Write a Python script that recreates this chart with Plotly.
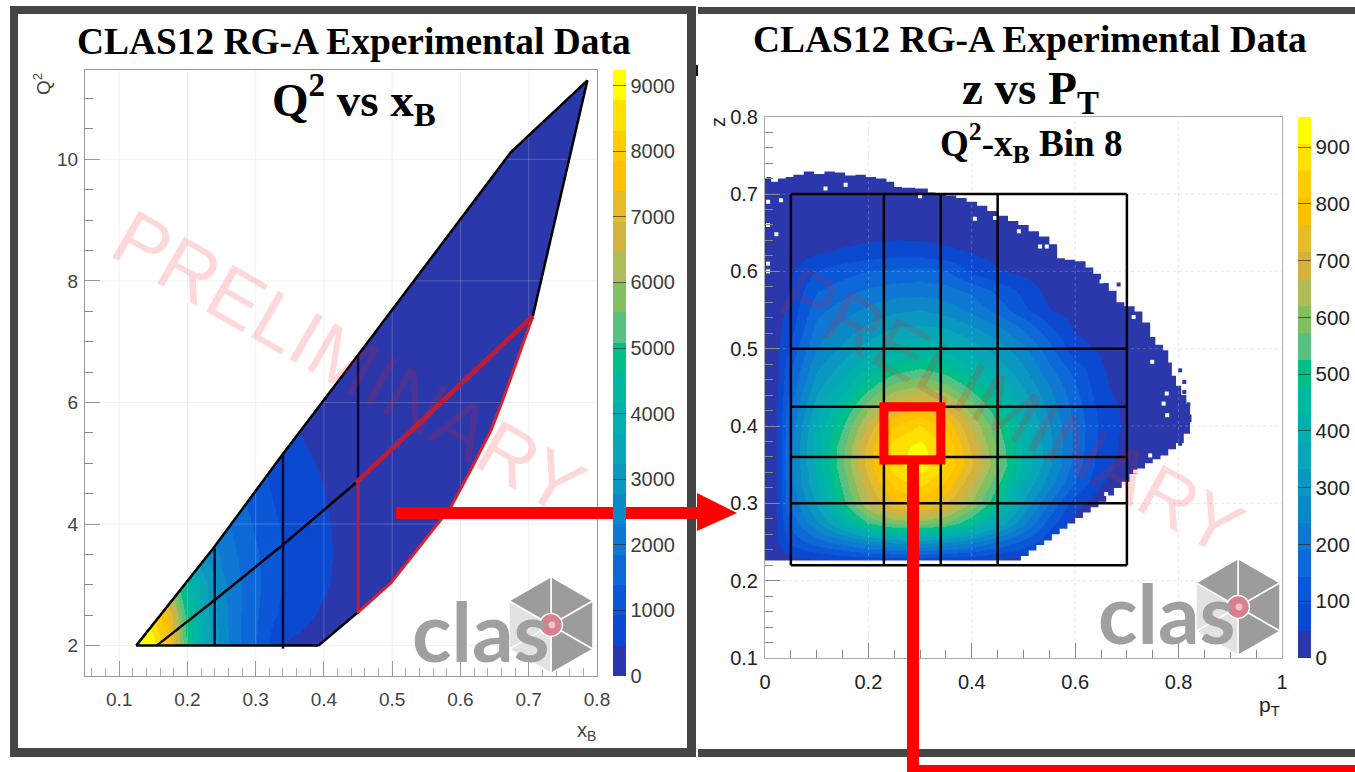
import plotly.graph_objects as go

W, H = 1355, 772

# ---------- data: Q2 vs xB ----------
xb_cols = [.05, .125, .15, .175, .2, .225, .25, .275, .3, .325, .35, .375, .4, .425, .45, .5, .8]
q2_rows = [1.5, 2, 2.5, 3, 3.5, 4, 4.5, 5, 5.5, 6, 7, 11.5]
q2_counts = [
    [9300, 9300, 9000, 7500, 5000, 3700, 2600, 1900, 1400, 700, 380, 330, 250, 170, 100, 60, 20],
    [9300, 9300, 9000, 7500, 5000, 3700, 2600, 1900, 1400, 700, 380, 330, 250, 170, 100, 60, 20],
    [9300, 9200, 8400, 7200, 4800, 3500, 2500, 1900, 1450, 1000, 680, 520, 400, 300, 200, 100, 20],
    [9000, 8000, 7000, 5600, 4300, 3400, 2450, 1900, 1500, 1100, 800, 620, 500, 390, 300, 180, 30],
    [8000, 6000, 5000, 4000, 3500, 2800, 2200, 1800, 1450, 1100, 820, 650, 520, 410, 330, 200, 30],
    [5000, 4000, 3000, 2600, 2400, 2200, 2000, 1650, 1300, 1000, 780, 620, 500, 400, 320, 180, 30],
    [3000, 2500, 2200, 2000, 1900, 1800, 1650, 1400, 1150, 900, 700, 560, 470, 380, 300, 170, 30],
    [2000, 1800, 1600, 1500, 1400, 1350, 1250, 1150, 1000, 800, 620, 500, 420, 340, 270, 160, 30],
    [1500, 1300, 1200, 1100, 1000, 900, 850, 800, 750, 620, 500, 430, 350, 300, 240, 150, 30],
    [400, 400, 400, 400, 400, 400, 400, 400, 400, 400, 400, 400, 300, 230, 190, 130, 30],
    [300, 300, 300, 300, 300, 300, 300, 300, 300, 300, 200, 200, 150, 120, 100, 60, 30],
    [100, 100, 100, 100, 100, 100, 100, 100, 100, 100, 100, 100, 50, 50, 40, 40, 30],
]
# kinematic boundary of the Q2-xB region
low_edge_xb = [.125, .392, .449, .498, .586, .615, .645, .662, .706, .786]
low_edge_q2 = [2, 2, 2.54, 3.03, 4.28, 4.89, 5.55, 6.04, 7.42, 11.3]
up_edge_xb = [.674, .45, .339, .238, .125]
up_edge_q2 = [10.12, 6.78, 5.14, 3.6, 2]
# bin lines
diag_xb = [.155, .24, .34, .447]
diag_q2 = [2, 2.75, 3.66, 4.68]
bin8_upper_xb = [.447, .706]
bin8_upper_q2 = [4.68, 7.42]
div_xb = [.24, .34, .45]
div_q2_low = [2, 1.95, 4.68]
div_q2_high = [3.6, 5.14, 6.78]

# ---------- data: z vs pT ----------
pt_cols = [0, .025, .05, .1, .15, .2, .25, .3, .35, .4, .45, .5, .55, .6, .65, .7, .75, .8, .85]
z_rows = [.2, .225, .25, .275, .3, .325, .35, .375, .4, .425, .45, .475, .5, .525, .55, .575, .6, .625, .65, .675, .7, .725, .75]
z_counts = [
    [0] * 19,
    [5, 12, 25, 30, 35, 40, 42, 42, 40, 35, 25, 15, 5, 0, 0, 0, 0, 0, 0],
    [15, 48, 110, 170, 220, 270, 300, 310, 290, 250, 190, 130, 60, 10, 0, 0, 0, 0, 0],
    [20, 50, 160, 280, 400, 530, 590, 600, 570, 480, 370, 250, 120, 25, 0, 0, 0, 0, 0],
    [20, 50, 200, 340, 510, 660, 750, 780, 720, 610, 470, 320, 190, 65, 10, 0, 0, 0, 0],
    [20, 50, 220, 380, 540, 700, 830, 870, 800, 670, 530, 380, 260, 140, 50, 15, 0, 0, 0],
    [20, 50, 230, 400, 570, 740, 890, 935, 860, 720, 580, 420, 300, 170, 70, 25, 5, 0, 0],
    [20, 50, 230, 410, 560, 730, 880, 920, 850, 700, 560, 420, 300, 180, 80, 30, 8, 2, 0],
    [20, 50, 210, 390, 520, 680, 810, 860, 800, 660, 530, 400, 290, 180, 85, 35, 10, 3, 0],
    [20, 50, 190, 360, 470, 600, 710, 750, 700, 590, 480, 370, 270, 170, 75, 35, 12, 3, 0],
    [18, 48, 160, 320, 410, 510, 600, 630, 590, 510, 420, 330, 245, 150, 60, 22, 10, 3, 0],
    [16, 46, 140, 280, 350, 430, 490, 520, 490, 430, 360, 290, 200, 120, 52, 20, 8, 2, 0],
    [14, 42, 110, 240, 300, 360, 410, 430, 410, 360, 310, 250, 160, 62, 42, 15, 6, 1, 0],
    [12, 36, 80, 210, 260, 300, 340, 350, 340, 300, 255, 190, 110, 45, 28, 8, 3, 0, 0],
    [10, 30, 65, 175, 215, 250, 275, 285, 265, 225, 170, 105, 50, 22, 10, 3, 0, 0, 0],
    [8, 24, 55, 140, 170, 200, 215, 220, 210, 180, 130, 80, 30, 14, 6, 0, 0, 0, 0],
    [6, 18, 40, 100, 125, 145, 155, 160, 150, 85, 52, 35, 20, 10, 4, 0, 0, 0, 0],
    [4, 10, 22, 42, 55, 65, 72, 70, 58, 45, 30, 20, 10, 6, 2, 0, 0, 0, 0],
    [2, 5, 10, 20, 25, 30, 34, 33, 28, 22, 14, 8, 4, 2, 0, 0, 0, 0, 0],
    [1, 3, 5, 10, 13, 15, 17, 16, 13, 9, 5, 3, 1, 0, 0, 0, 0, 0, 0],
    [1, 1, 3, 5, 7, 8, 9, 8, 6, 4, 2, 1, 0, 0, 0, 0, 0, 0, 0],
    [0, 1, 1, 2, 3, 3, 3, 2, 2, 1, 0, 0, 0, 0, 0, 0, 0, 0, 0],
    [0] * 19,
]
# populated-region envelope, read along the staircase edge
env_pt = [.008, .48, .495, .51, .525, .54, .555, .57, .585, .60, .615, .63, .645, .66, .675, .69, .705, .72, .735, .75,
          .765, .78, .795, .81, .822, .825, .822, .815, .805, .795, .787, .78, .77, .755, .745, .73, .715, .695, .68,
          .665, .65, .635, .62, .60, .58, .565, .55, .53, .51, .49, .47, .45, .43, .41, .39, .37, .35, .33, .315, .29,
          .265, .25, .235, .215, .195, .175, .155, .135, .115, .095, .075, .055, .04, .025, .012, .003]
env_z = [.226, .226, .232, .239, .246, .252, .26, .267, .274, .281, .288, .295, .302, .31, .32, .328, .338, .345, .352, .357,
         .362, .37, .378, .39, .405, .415, .428, .44, .452, .465, .482, .498, .505, .515, .534, .548, .555, .56, .575,
         .585, .597, .605, .613, .615, .617, .635, .645, .652, .66, .665, .672, .678, .685, .69, .695, .698, .70, .702, .707, .708,
         .709, .716, .72, .722, .725, .724, .728, .729, .726, .729, .725, .722, .72, .716, .722, .72]
empty_pt = [.022, .117, .156, .031, .3, .406, .445, .491, .006, .006, .006, .006, .532, .545, .651, .713, .749, .777, .771, .778, .745, .716, .66]
empty_z = [.648, .707, .712, .692, .697, .668, .669, .652, .69, .66, .61, .6, .632, .632, .587, .541, .483, .442, .429, .414, .362, .341, .312]
stray_pt = [.684, .803, .811, .811, .819, .819, .803]
stray_z = [.583, .472, .457, .444, .428, .412, .377]
box_pt = [.05, .23, .34, .45, .7]
box_z = [.22, .3, .36, .425, .5, .7]
red_bin_pt = [.23, .34]
red_bin_z = [.356, .425]

cbar_colors = ['#2a38ab', '#0a49d0', '#0a58d8', '#0d68d8', '#0f78d2', '#0a88c8', '#0a98c0', '#08a6b8', '#00b0ac', '#00b8a0',
               '#00c088', '#58c080', '#80c060', '#b0bc58', '#d4b23e', '#e6bc28', '#ffc000', '#ffcc00', '#ffe000', '#ffff00']
left_ticks = [0, 1000, 2000, 3000, 4000, 5000, 6000, 7000, 8000, 9000]
right_ticks = [0, 100, 200, 300, 400, 500, 600, 700, 800, 900]

# ---------- layout helpers ----------
px = lambda v: v / W
py = lambda v: 1 - v / H
scale = []
for i, c in enumerate(cbar_colors):
    scale += [[i / 20, c], [(i + 1) / 20, c]]
SANS = 'Liberation Sans'
SERIF = 'Liberation Serif'

fig = go.Figure()


def cbar(x0, top, bottom, thick, ticks, size, color):
    return dict(x=px(x0), xanchor='left', xpad=0, ypad=0, y=py(bottom), yanchor='bottom', lenmode='pixels', len=bottom - top,
                thickness=thick, thicknessmode='pixels', tickvals=ticks, ticks='inside', ticklen=thick,
                tickwidth=1, tickcolor='rgba(40,40,40,.65)', outlinewidth=0, tickfont=dict(family=SANS, size=size, color=color))


fig.add_trace(go.Heatmap(x=xb_cols, y=q2_rows, z=q2_counts, zmin=0, zmax=9238, zsmooth='best', colorscale=scale, hoverinfo='skip',
                         colorbar=cbar(613, 70, 676, 13, left_ticks, 20, '#3c3c3c'), xaxis='x', yaxis='y'))
fig.add_trace(go.Heatmap(x=pt_cols, y=z_rows, z=z_counts, zmin=0, zmax=953, zsmooth='best', colorscale=scale, hoverinfo='skip',
                         colorbar=cbar(1298, 117, 658, 13, right_ticks, 20.5, '#222222'), xaxis='x2', yaxis='y2'))


def line(x, y, color='black', width=2.5, axis='', **kw):
    fig.add_trace(go.Scatter(x=x, y=y, mode='lines', line=dict(color=color, width=width), xaxis='x' + axis, yaxis='y' + axis,
                             hoverinfo='skip', showlegend=False, **kw))


# white masks outside the populated regions
mask_x = [.05, .05, .8, .8, .05, .05] + low_edge_xb + up_edge_xb + [.05]
mask_y = [2, 11.47, 11.47, 1.5, 1.5, 2] + low_edge_q2 + up_edge_q2 + [2]
fig.add_trace(go.Scatter(x=mask_x, y=mask_y, mode='lines', line=dict(width=0, color='white'), fill='toself', fillcolor='white',
                         hoverinfo='skip', showlegend=False, xaxis='x', yaxis='y'))
mask2_x = [0] + env_pt + [0, 0, 1, 1, 0, 0]
mask2_y = [.226] + env_z + [.72, .8, .8, .1, .1, .226]
fig.add_trace(go.Scatter(x=mask2_x, y=mask2_y, mode='lines', line=dict(width=0, color='white', shape='hv'), fill='toself', fillcolor='white',
                         hoverinfo='skip', showlegend=False, xaxis='x2', yaxis='y2'))
fig.add_trace(go.Scatter(x=empty_pt, y=empty_z, mode='markers', marker=dict(symbol='square', size=4, color='white'), hoverinfo='skip',
                         showlegend=False, xaxis='x2', yaxis='y2'))
fig.add_trace(go.Scatter(x=stray_pt, y=stray_z, mode='markers', marker=dict(symbol='square', size=4, color=cbar_colors[0]), hoverinfo='skip',
                         showlegend=False, xaxis='x2', yaxis='y2'))

# faint grid
for v in [.1, .2, .3, .4, .5, .6, .7]:
    line([v, v], [1.5, 11.47], 'rgba(205,205,215,.28)', 1)
for v in [2, 4, 6, 8, 10]:
    line([.05, .8], [v, v], 'rgba(205,205,215,.28)', 1)
for v in [.2, .4, .6, .8]:
    fig.add_trace(go.Scatter(x=[v, v], y=[.1, .8], mode='lines', line=dict(color='rgba(190,190,190,.35)', width=1, dash='dot'),
                             xaxis='x2', yaxis='y2', hoverinfo='skip', showlegend=False))
for v in [.2, .3, .4, .5, .6, .7]:
    fig.add_trace(go.Scatter(x=[0, 1], y=[v, v], mode='lines', line=dict(color='rgba(190,190,190,.35)', width=1, dash='dot'),
                             xaxis='x2', yaxis='y2', hoverinfo='skip', showlegend=False))

# Q2-xB bin lines
line([low_edge_xb[-1]] + up_edge_xb, [low_edge_q2[-1]] + up_edge_q2, 'black', 2.5)
line(low_edge_xb[:2], low_edge_q2[:2], 'black', 2.5)
line(low_edge_xb[1:3], low_edge_q2[1:3], 'black', 2.5)
line(low_edge_xb[-2:], low_edge_q2[-2:], 'black', 2.5)
line(diag_xb, diag_q2, 'black', 2.5)
for xv, lo, hi in zip(div_xb, div_q2_low, div_q2_high):
    line([xv, xv], [lo, hi], '#0a0a30', 2.5)
line([div_xb[2], div_xb[2]], [low_edge_q2[2], diag_q2[-1]], '#b81e3c', 3)
line(low_edge_xb[2:-1], low_edge_q2[2:-1], '#d8202e', 3)
line(bin8_upper_xb, bin8_upper_q2, '#b81e3c', 5)

# z-pT box grid
for v in box_pt:
    line([v, v], [box_z[0], box_z[-1]], 'black', 2.5, axis='2')
for v in box_z:
    line([box_pt[0], box_pt[-1]], [v, v], 'black', 2.5, axis='2')

# ---------- decorations in page pixels ----------
shapes = []


def rect(x0, y0, x1, y1, color):
    shapes.append(dict(type='rect', xref='paper', yref='paper', x0=px(x0), x1=px(x1), y0=py(y1), y1=py(y0),
                       fillcolor=color, line=dict(width=0), layer='above'))


def poly(points, color, lw=0, lc='white'):
    d = 'M ' + ' L '.join(f'{px(a):.5f},{py(b):.5f}' for a, b in points) + ' Z'
    shapes.append(dict(type='path', xref='paper', yref='paper', path=d, fillcolor=color, line=dict(width=lw, color=lc), layer='above'))


FRAME = '#454545'
rect(10, 6, 18, 757, FRAME)
rect(10, 6, 696, 14, FRAME)
rect(687, 6, 696, 757, FRAME)
rect(10, 748, 696, 757, FRAME)
rect(696, 65, 698, 76, '#111111')
rect(698, 7, 1355, 14, FRAME)
rect(698, 749, 1355, 757, FRAME)

RED = '#ff0000'
rect(396, 507, 698, 519, RED)
poly([(697, 493), (737, 513), (697, 531)], RED)
rect(907, 458, 919, 772, RED)
rect(907, 765, 1355, 772, RED)
shapes.append(dict(type='rect', xref='x2', yref='y2', x0=red_bin_pt[0], x1=red_bin_pt[1], y0=red_bin_z[0], y1=red_bin_z[1],
                   line=dict(color=RED, width=9), fillcolor='rgba(0,0,0,0)', layer='above'))


def logo(cx, cy, r):
    dx, dy = r * .866, r * .5
    v = [(cx, cy - r), (cx + dx, cy - dy), (cx + dx, cy + dy), (cx, cy + r), (cx - dx, cy + dy), (cx - dx, cy - dy)]
    fills = ['#9c9c9c', '#9c9c9c', '#9c9c9c', '#e2e2e2', '#e2e2e2', '#9c9c9c']
    for i in range(6):
        poly([(cx, cy), v[i], v[(i + 1) % 6]], fills[i], 1.5, 'white')
    rr = r * .235
    shapes.append(dict(type='circle', xref='paper', yref='paper', x0=px(cx - rr), x1=px(cx + rr), y0=py(cy + rr), y1=py(cy - rr),
                       fillcolor='#d97f8d', line=dict(color='white', width=1.5), layer='above'))
    rh = r * .07
    shapes.append(dict(type='circle', xref='paper', yref='paper', x0=px(cx + 1 - rh), x1=px(cx + 1 + rh), y0=py(cy + rh), y1=py(cy - rh),
                       fillcolor='#f0c4c4', line=dict(width=0), layer='above'))


logo(551, 625, 48.5)
logo(1238, 607, 48.5)

ann = []


def text(x, y, s, size, family=SANS, color='#333333', angle=0, bold=False):
    ann.append(dict(xref='paper', yref='paper', x=px(x), y=py(y), text=f'<b>{s}</b>' if bold else s, showarrow=False,
                    font=dict(family=family, size=size, color=color), textangle=angle, xanchor='center', yanchor='middle'))


text(354, 42, 'CLAS12 RG-A Experimental Data', 37.4, SERIF, 'black', bold=True)
text(1030, 40, 'CLAS12 RG-A Experimental Data', 37.4, SERIF, 'black', bold=True)
text(354, 100, 'Q<sup>2</sup> vs x<sub>B</sub>', 47, SERIF, 'black', bold=True)
text(1030, 92, 'z vs P<sub>T</sub>', 47, SERIF, 'black', bold=True)
text(1031, 143, 'Q<sup>2</sup>-x<sub>B</sub> Bin 8', 37, SERIF, 'black', bold=True)
text(348, 362, 'PRELIMINARY', 78, SANS, 'rgba(255,20,20,.16)', 30)
text(1012, 410, 'PRELIMINARY', 76, SANS, 'rgba(255,20,20,.16)', 29)
text(481, 630, 'clas', 82, 'Lato', '#a0a0a0', bold=True)
text(1167, 612, 'clas', 82, 'Lato', '#a0a0a0', bold=True)
text(42, 84, 'Q<sup>2</sup>', 19, SANS, '#444444', -90)
text(586, 731, 'x<sub>B</sub>', 20, SANS, '#444444')
text(1269, 706, 'p<sub>T</sub>', 21, SANS, '#222222')
text(718, 122, 'z', 20, SANS, '#222222', -90)

AX = dict(showgrid=False, zeroline=False, showline=True, mirror=True, ticks='inside', ticklen=15, tickwidth=1, layer='above traces')
fig.update_layout(
    width=W, height=H, margin=dict(l=0, r=0, t=0, b=0, autoexpand=False), paper_bgcolor='white', plot_bgcolor='white', showlegend=False,
    shapes=shapes, annotations=ann,
    xaxis=dict(AX, domain=[px(85), px(597)], range=[.05, .8], tickvals=[.1, .2, .3, .4, .5, .6, .7, .8], ticktext=['0.1', '0.2', '0.3', '0.4', '0.5', '0.6', '0.7', '0.8'],
               linecolor='#999999', tickcolor='#999999', tickfont=dict(family=SANS, size=19, color='#444444'), ticklabelstandoff=6,
               minor=dict(dtick=.02, ticks='inside', ticklen=8, tickcolor='#aaaaaa', tick0=0), anchor='y'),
    yaxis=dict(AX, domain=[py(676), py(70)], range=[1.5, 11.47], tickvals=[2, 4, 6, 8, 10],
               linecolor='#999999', tickcolor='#999999', tickfont=dict(family=SANS, size=19, color='#444444'), ticklabelstandoff=2,
               minor=dict(dtick=.5, ticks='inside', ticklen=8, tickcolor='#888888', tick0=0), anchor='x'),
    xaxis2=dict(AX, domain=[px(765), px(1282)], range=[0, 1], tickvals=[0, .2, .4, .6, .8, 1], ticktext=['0', '0.2', '0.4', '0.6', '0.8', '1'],
                linecolor='#aaaaaa', tickcolor='#888888', tickfont=dict(family=SANS, size=20, color='#222222'), ticklabelstandoff=6,
                minor=dict(dtick=.05, ticks='inside', ticklen=8, tickcolor='#888888', tick0=0), anchor='y2'),
    yaxis2=dict(AX, domain=[py(658), py(116.7)], range=[.1, .8], tickvals=[.1, .2, .3, .4, .5, .6, .7, .8], ticktext=['0.1', '0.2', '0.3', '0.4', '0.5', '0.6', '0.7', '0.8'],
                linecolor='#aaaaaa', tickcolor='#888888', tickfont=dict(family=SANS, size=20, color='#222222'), ticklabelstandoff=2,
                minor=dict(dtick=.02, ticks='inside', ticklen=8, tickcolor='#888888', tick0=0), anchor='x2'),
)

fig.write_html('out.html', config={'displayModeBar': False},
               post_script="document.body.style.margin='0';document.documentElement.style.overflow='hidden';")
